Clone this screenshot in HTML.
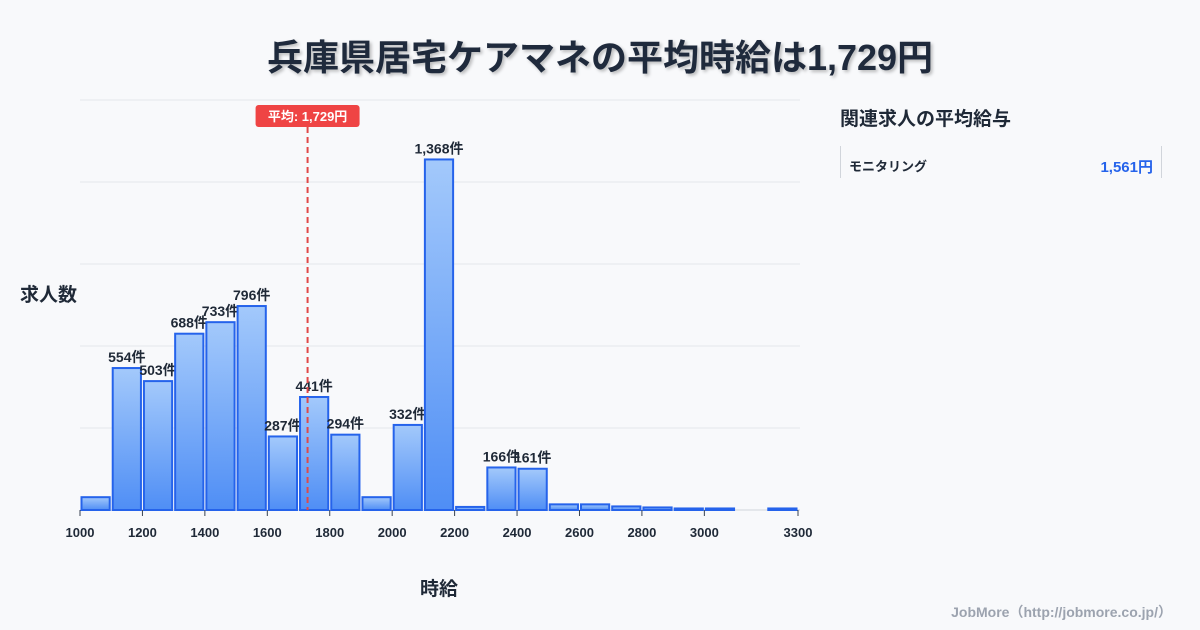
<!DOCTYPE html>
<html><head><meta charset="utf-8"><style>
body{margin:0;width:1200px;height:630px;background:#f8f9fb;font-family:"Liberation Sans","Noto Sans CJK JP",sans-serif;overflow:hidden;position:relative;color:#1f2937}
.t{position:absolute;white-space:nowrap}
</style></head><body>
<div class="t" style="left:0;width:1200px;top:29px;text-align:center;font-size:36px;font-weight:bold;color:#1f2a3c;text-shadow:2px 2px 3px rgba(0,0,0,0.25)">兵庫県居宅ケアマネの平均時給は1,729円</div>
<div class="t" style="left:20px;top:280px;font-size:19px;font-weight:bold">求人数</div>
<div class="t" style="left:420px;top:574px;font-size:19px;font-weight:bold">時給</div>
<div class="t" style="left:840px;top:104px;font-size:19px;font-weight:bold">関連求人の平均給与</div>
<div style="position:absolute;left:840px;top:146px;width:320px;height:32px;border-left:1px solid #d1d5db;border-right:1px solid #d1d5db">
<span class="t" style="left:8px;top:10px;font-size:13px;font-weight:bold">モニタリング</span>
<span class="t" style="right:8px;top:10px;font-size:15px;font-weight:bold;color:#2563eb">1,561円</span></div>
<div class="t" style="right:28px;top:602px;font-size:14px;font-weight:bold;color:#9ca3af">JobMore（http://jobmore.co.jp/）</div>
<svg id="c" width="1200" height="630" style="position:absolute;left:0;top:0">
<defs><linearGradient id="g" x1="0" y1="0" x2="0" y2="1"><stop offset="0" stop-color="#a3c9fb"/><stop offset="1" stop-color="#4f8ef5"/></linearGradient></defs>
</svg>
<script>
const binStarts=[1000,1100,1200,1300,1400,1500,1600,1700,1800,1900,2000,2100,2200,2300,2400,2500,2600,2700,2800,2900,3000,3100,3200];
const counts=[50,554,503,688,733,796,287,441,294,50,332,1368,12,166,161,22,22,14,10,6,6,0,6];
const xTicks=[1000,1200,1400,1600,1800,2000,2200,2400,2600,2800,3000,3300];
const yGrid=[0,320,640,960,1280,1600];
const avg=1729;
const ns="http://www.w3.org/2000/svg",svg=document.getElementById('c');
const X=v=>80+(v-1000)*(718/2300), Y=v=>510-v*(410/1600);
function mk(t,a,p){const e=document.createElementNS(ns,t);for(const k in a)e.setAttribute(k,a[k]);(p||svg).appendChild(e);return e;}
yGrid.forEach(v=>{const l=mk('line',{x1:80,x2:800,y1:Y(v),y2:Y(v),stroke:v?'#e5e7eb':'#d1d5db','stroke-width':1});

});
xTicks.forEach(v=>{const l=mk('line',{x1:X(v),x2:X(v),y1:510,y2:516,stroke:'#374151'});


const t=mk('text',{x:X(v),y:537,'text-anchor':'middle','font-size':13,'font-weight':'bold',fill:'#1f2937'});t.textContent=v;

});
binStarts.forEach((s,i)=>{const v=counts[i];if(!v)return;const x0=X(s)+1.5,x1=X(s+100)-1.5,y=Y(v);
const r=mk('rect',{x:x0,y:y,width:x1-x0,height:510-y,fill:'url(#g)',stroke:'#2563eb','stroke-width':2});


if(v>100){const t=mk('text',{x:(x0+x1)/2,y:y-6,'text-anchor':'middle','font-size':14,'font-weight':'bold',fill:'#1f2937'});t.textContent=v.toLocaleString()+'件';

}});
const ax=X(avg);
const al=mk('line',{x1:ax,x2:ax,y1:127,y2:510,stroke:'#e04848','stroke-width':2,'stroke-dasharray':'6,4'});


const ab=mk('rect',{x:ax-52,y:105,width:104,height:22,rx:3,fill:'#ef4444'});


const at=mk('text',{x:ax,y:121,'text-anchor':'middle','font-size':13,'font-weight':'bold',fill:'#fff'});at.textContent='平均: '+avg.toLocaleString()+'円';


</script>
</body></html>
